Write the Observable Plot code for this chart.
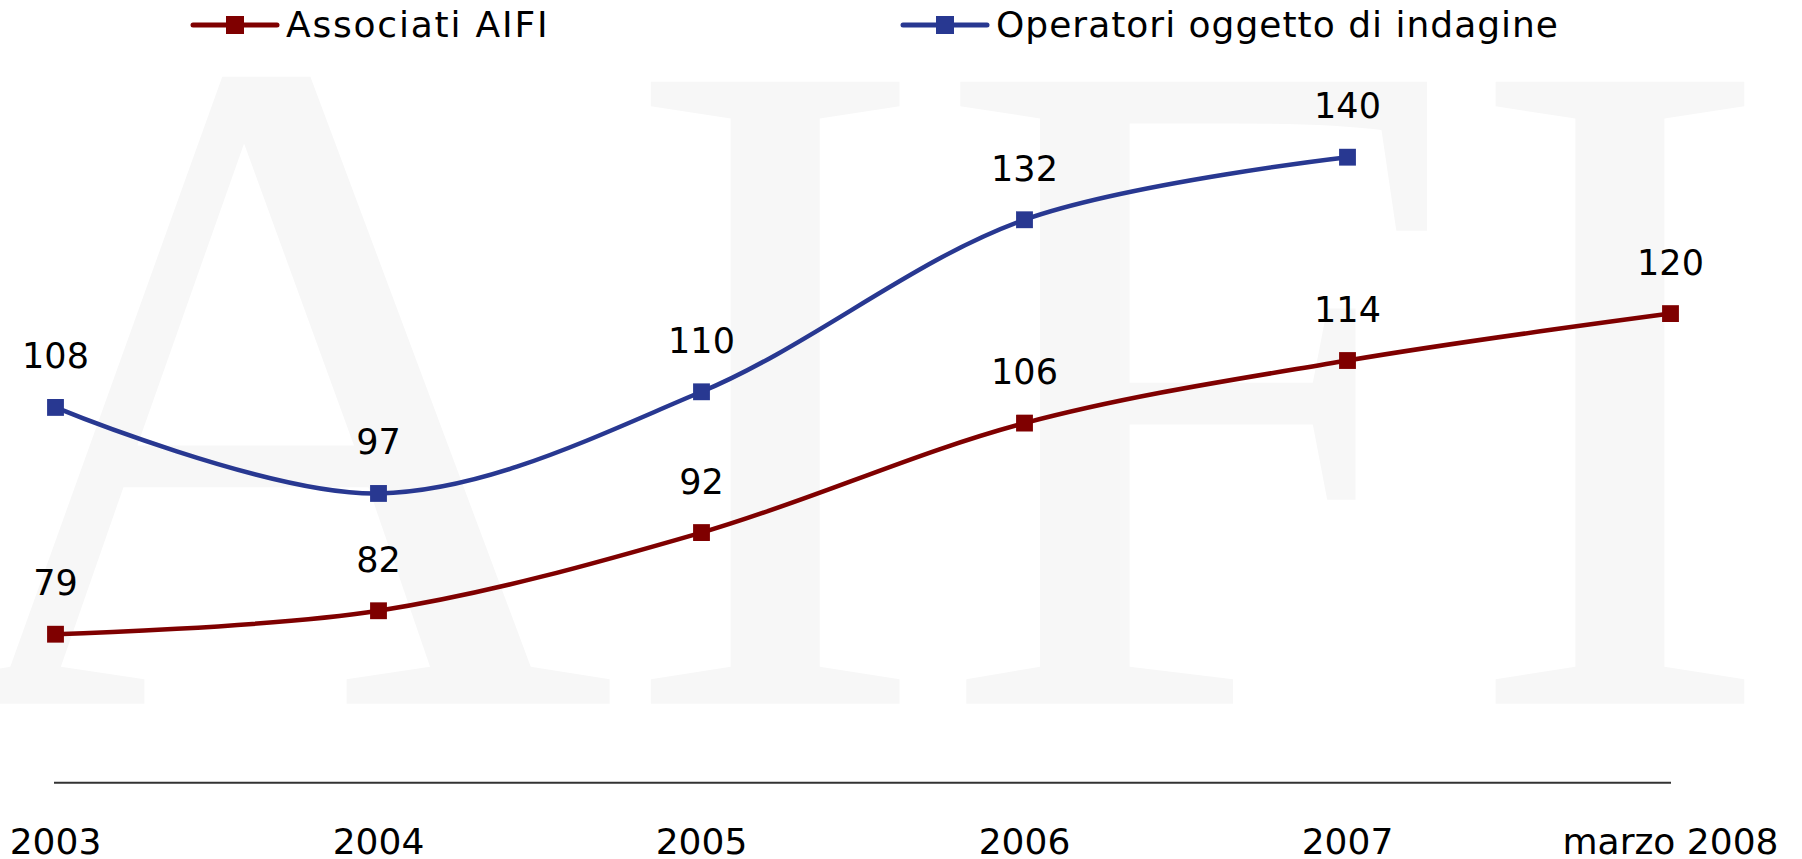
<!DOCTYPE html>
<html>
<head>
<meta charset="utf-8">
<script src="https://cdn.jsdelivr.net/npm/d3@7"></script>
<script src="https://cdn.jsdelivr.net/npm/@observablehq/plot@0.6"></script>
<style>
  html, body { margin: 0; padding: 0; background: #fff; }
  #wrap { width: 1802px; position: relative; font-family: "DejaVu Sans", Verdana, sans-serif; }
  #legend { display: block; }
  #chart svg { display: block; }
</style>
</head>
<body>
<div id="wrap">
  <svg id="legend" width="1802" height="60"></svg>
  <div id="chart"></div>
</div>
<script>
// ---- data ----
const categories = ["2003", "2004", "2005", "2006", "2007", "marzo 2008"];
const associatiAIFI = [79, 82, 92, 106, 114, 120];
const operatoriIndagine = [108, 97, 110, 132, 140, null];
const seriesNames = ["Associati AIFI", "Operatori oggetto di indagine"];
const seriesColors = ["#7f0000", "#283891"];
const watermark = "AIFI";

// ---- table ----
const table = [];
categories.forEach((c, i) => {
  if (associatiAIFI[i] != null) table.push({cat: c, value: associatiAIFI[i], series: seriesNames[0]});
});
categories.forEach((c, i) => {
  if (operatoriIndagine[i] != null) table.push({cat: c, value: operatoriIndagine[i], series: seriesNames[1]});
});

// ---- legend ----
const legend = d3.select("#legend");
const legendItems = [
  {name: seriesNames[0], color: seriesColors[0], x0: 193, ls: 1.8},
  {name: seriesNames[1], color: seriesColors[1], x0: 903, ls: 1}
];
legendItems.forEach(it => {
  const g = legend.append("g");
  g.append("line").attr("x1", it.x0).attr("x2", it.x0 + 84).attr("y1", 25).attr("y2", 25)
    .attr("stroke", it.color).attr("stroke-width", 5).attr("stroke-linecap", "round");
  g.append("rect").attr("x", it.x0 + 42 - 9).attr("y", 25 - 9).attr("width", 18).attr("height", 18)
    .attr("fill", it.color);
  g.append("text").attr("x", it.x0 + 93).attr("y", 37)
    .attr("font-family", "DejaVu Sans, Verdana, sans-serif").attr("font-size", 36)
    .attr("letter-spacing", it.ls).attr("fill", "#000").text(it.name);
});

// ---- chart ----
const chart = Plot.plot({
  width: 1802,
  height: 799,
  marginLeft: 54,
  marginRight: 131,
  marginTop: 18.5,
  marginBottom: 76.7,
  style: {fontFamily: "DejaVu Sans, Verdana, sans-serif", background: "transparent", overflow: "visible"},
  x: {type: "point", domain: categories, padding: 0, axis: null},
  y: {domain: [60, 150], axis: null},
  color: {domain: seriesNames, range: seriesColors},
  marks: [
    Plot.text([watermark], {
      text: d => d, frameAnchor: "bottom-left", textAnchor: "start", lineAnchor: "bottom",
      dx: -124, dy: -79, fontSize: 950, fontFamily: "Liberation Serif, Times New Roman, serif",
      fill: "#f7f7f7"
    }),
    Plot.ruleY([60], {stroke: "#333", strokeWidth: 2}),
    Plot.line(table, {x: "cat", y: "value", z: "series", stroke: "series", strokeWidth: 4.5, curve: "catmull-rom"}),
    Plot.dot(table, {x: "cat", y: "value", fill: "series", symbol: "square", r: 9.5}),
    Plot.text(table, {x: "cat", y: "value", text: d => String(d.value), dy: -39, lineAnchor: "bottom",
      fontSize: 35, fill: "#000"}),
    Plot.axisX({tickSize: 0, tickPadding: 46, fontSize: 36, color: "#000", label: null})
  ]
});
document.getElementById("chart").appendChild(chart);
</script>
</body>
</html>
